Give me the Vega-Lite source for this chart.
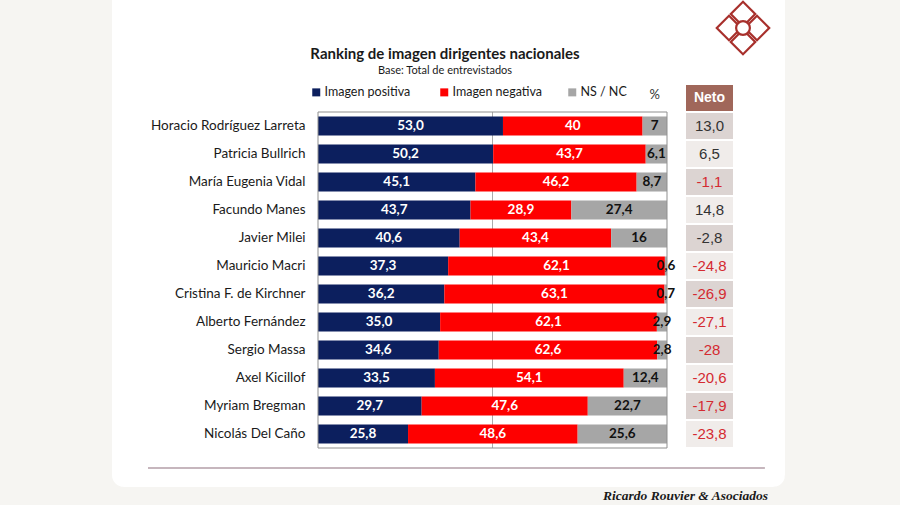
{
  "$schema": "https://vega.github.io/schema/vega-lite/v6.json",
  "width": 349,
  "height": 336,
  "autosize": {"type": "none"},
  "padding": {"left": 318, "top": 112, "right": 233, "bottom": 57},
  "background": "#f6f5f2",
  "config": {"view": {"stroke": null}, "font": "Lato"},
  "datasets": {
    "bars": [
      {"name": "Horacio Rodríguez Larreta", "cat": "Imagen positiva", "value": 53.0, "label": "53,0"},
      {"name": "Horacio Rodríguez Larreta", "cat": "Imagen negativa", "value": 40, "label": "40"},
      {"name": "Horacio Rodríguez Larreta", "cat": "NS / NC", "value": 7, "label": "7"},
      {"name": "Patricia Bullrich", "cat": "Imagen positiva", "value": 50.2, "label": "50,2"},
      {"name": "Patricia Bullrich", "cat": "Imagen negativa", "value": 43.7, "label": "43,7"},
      {"name": "Patricia Bullrich", "cat": "NS / NC", "value": 6.1, "label": "6,1"},
      {"name": "María Eugenia Vidal", "cat": "Imagen positiva", "value": 45.1, "label": "45,1"},
      {"name": "María Eugenia Vidal", "cat": "Imagen negativa", "value": 46.2, "label": "46,2"},
      {"name": "María Eugenia Vidal", "cat": "NS / NC", "value": 8.7, "label": "8,7"},
      {"name": "Facundo Manes", "cat": "Imagen positiva", "value": 43.7, "label": "43,7"},
      {"name": "Facundo Manes", "cat": "Imagen negativa", "value": 28.9, "label": "28,9"},
      {"name": "Facundo Manes", "cat": "NS / NC", "value": 27.4, "label": "27,4"},
      {"name": "Javier Milei", "cat": "Imagen positiva", "value": 40.6, "label": "40,6"},
      {"name": "Javier Milei", "cat": "Imagen negativa", "value": 43.4, "label": "43,4"},
      {"name": "Javier Milei", "cat": "NS / NC", "value": 16, "label": "16"},
      {"name": "Mauricio Macri", "cat": "Imagen positiva", "value": 37.3, "label": "37,3"},
      {"name": "Mauricio Macri", "cat": "Imagen negativa", "value": 62.1, "label": "62,1"},
      {"name": "Mauricio Macri", "cat": "NS / NC", "value": 0.6, "label": "0,6"},
      {"name": "Cristina F. de Kirchner", "cat": "Imagen positiva", "value": 36.2, "label": "36,2"},
      {"name": "Cristina F. de Kirchner", "cat": "Imagen negativa", "value": 63.1, "label": "63,1"},
      {"name": "Cristina F. de Kirchner", "cat": "NS / NC", "value": 0.7, "label": "0,7"},
      {"name": "Alberto Fernández", "cat": "Imagen positiva", "value": 35.0, "label": "35,0"},
      {"name": "Alberto Fernández", "cat": "Imagen negativa", "value": 62.1, "label": "62,1"},
      {"name": "Alberto Fernández", "cat": "NS / NC", "value": 2.9, "label": "2,9"},
      {"name": "Sergio Massa", "cat": "Imagen positiva", "value": 34.6, "label": "34,6"},
      {"name": "Sergio Massa", "cat": "Imagen negativa", "value": 62.6, "label": "62,6"},
      {"name": "Sergio Massa", "cat": "NS / NC", "value": 2.8, "label": "2,8"},
      {"name": "Axel Kicillof", "cat": "Imagen positiva", "value": 33.5, "label": "33,5"},
      {"name": "Axel Kicillof", "cat": "Imagen negativa", "value": 54.1, "label": "54,1"},
      {"name": "Axel Kicillof", "cat": "NS / NC", "value": 12.4, "label": "12,4"},
      {"name": "Myriam Bregman", "cat": "Imagen positiva", "value": 29.7, "label": "29,7"},
      {"name": "Myriam Bregman", "cat": "Imagen negativa", "value": 47.6, "label": "47,6"},
      {"name": "Myriam Bregman", "cat": "NS / NC", "value": 22.7, "label": "22,7"},
      {"name": "Nicolás Del Caño", "cat": "Imagen positiva", "value": 25.8, "label": "25,8"},
      {"name": "Nicolás Del Caño", "cat": "Imagen negativa", "value": 48.6, "label": "48,6"},
      {"name": "Nicolás Del Caño", "cat": "NS / NC", "value": 25.6, "label": "25,6"}
    ],
    "neto": [
      {"name": "Horacio Rodríguez Larreta", "neto": 13.0, "label": "13,0"},
      {"name": "Patricia Bullrich", "neto": 6.5, "label": "6,5"},
      {"name": "María Eugenia Vidal", "neto": -1.1, "label": "-1,1"},
      {"name": "Facundo Manes", "neto": 14.8, "label": "14,8"},
      {"name": "Javier Milei", "neto": -2.8, "label": "-2,8"},
      {"name": "Mauricio Macri", "neto": -24.8, "label": "-24,8"},
      {"name": "Cristina F. de Kirchner", "neto": -26.9, "label": "-26,9"},
      {"name": "Alberto Fernández", "neto": -27.1, "label": "-27,1"},
      {"name": "Sergio Massa", "neto": -28, "label": "-28"},
      {"name": "Axel Kicillof", "neto": -20.6, "label": "-20,6"},
      {"name": "Myriam Bregman", "neto": -17.9, "label": "-17,9"},
      {"name": "Nicolás Del Caño", "neto": -23.8, "label": "-23,8"}
    ],
    "logo": [
      {"lx": 0, "ly": 1, "part": "cell"},
      {"lx": -1, "ly": 0, "part": "cell"},
      {"lx": 1, "ly": 0, "part": "cell"},
      {"lx": 0, "ly": -1, "part": "cell"},
      {"lx": 0, "ly": 0, "part": "core"}
    ]
  },
  "resolve": {"scale": {"x": "independent", "y": "independent"}},
  "layer": [
    {
      "data": {"values": [{"k": 1}]},
      "layer": [
        {
          "mark": {"type": "rect", "fill": "#cfcac4", "cornerRadius": 14, "xOffset": 1, "yOffset": 4, "opacity": 0.8},
          "encoding": {
            "x": {"datum": 0, "type": "quantitative", "scale": {"domain": [0, 1], "range": [-206, 467]}, "axis": null},
            "x2": {"datum": 1},
            "y": {"datum": 0, "type": "quantitative", "scale": {"domain": [0, 1], "range": [-130, 375]}, "axis": null},
            "y2": {"datum": 1}
          }
        },
        {
          "mark": {"type": "rect", "fill": "#ffffff", "cornerRadius": 12},
          "encoding": {
            "x": {"datum": 0, "type": "quantitative"},
            "x2": {"datum": 1},
            "y": {"datum": 0, "type": "quantitative"},
            "y2": {"datum": 1}
          }
        }
      ]
    },
    {
      "data": {"name": "bars"},
      "layer": [
        {
          "data": {"values": [{"k": 1}]},
          "mark": {"type": "rule", "color": "#ababab", "strokeWidth": 1},
          "encoding": {"x": {"datum": 50, "type": "quantitative"}}
        },
        {
          "transform": [
            {"calculate": "indexof(['Imagen positiva','Imagen negativa','NS / NC'], datum.cat)", "as": "ci"},
            {"stack": "value", "groupby": ["name"], "sort": [{"field": "ci"}], "as": ["x0", "x1"]}
          ],
          "mark": {"type": "bar"},
          "encoding": {
            "x": {
              "field": "x0", "type": "quantitative",
              "scale": {"domain": [0, 100], "nice": false},
              "axis": {"orient": "top", "labels": false, "ticks": false, "domain": false, "grid": false, "title": "%", "titleFontSize": 13, "titleFontWeight": "normal", "titleColor": "#333333", "titleAnchor": "start", "titleAlign": "left", "titleBaseline": "alphabetic", "titleX": 331, "titleY": -14, "zindex": 1}
            },
            "x2": {"field": "x1"},
            "y": {
              "field": "name", "type": "nominal",
              "scale": {"domain": ["Horacio Rodríguez Larreta", "Patricia Bullrich", "María Eugenia Vidal", "Facundo Manes", "Javier Milei", "Mauricio Macri", "Cristina F. de Kirchner", "Alberto Fernández", "Sergio Massa", "Axel Kicillof", "Myriam Bregman", "Nicolás Del Caño"], "paddingInner": 0.32, "paddingOuter": 0.16},
              "axis": {"orient": "left", "title": null, "domain": false, "ticks": false, "labelFontSize": 13.5, "labelColor": "#1a1a1a", "labelPadding": 13, "zindex": 1}
            },
            "color": {
              "field": "cat", "type": "nominal",
              "scale": {"domain": ["Imagen positiva", "Imagen negativa", "NS / NC"], "range": ["#0c1f5e", "#fe0000", "#a6a6a6"]},
              "legend": {"orient": "none", "legendX": -8, "legendY": -26, "direction": "horizontal", "columns": 3, "title": null, "symbolType": "square", "symbolSize": 64, "symbolStrokeWidth": 0, "labelFontSize": 12.5, "labelColor": "#1a1a1a", "labelOffset": 2, "columnPadding": 23, "gridAlign": "all", "zindex": 1}
            }
          }
        },
        {
          "data": {"values": [{"k": 1}]},
          "mark": {"type": "rect", "fill": "transparent", "stroke": "#8f8f8f", "strokeWidth": 1},
          "encoding": {"x": {"datum": 0, "type": "quantitative"}, "x2": {"datum": 100}}
        },
        {
          "transform": [
            {"calculate": "indexof(['Imagen positiva','Imagen negativa','NS / NC'], datum.cat)", "as": "ci"},
            {"stack": "value", "groupby": ["name"], "sort": [{"field": "ci"}], "as": ["x0", "x1"]},
            {"calculate": "(datum.x0 + datum.x1) / 2", "as": "xm"}
          ],
          "mark": {"type": "text", "fontWeight": "bold", "fontSize": 13.5},
          "encoding": {
            "x": {"field": "xm", "type": "quantitative"},
            "y": {"field": "name", "type": "nominal"},
            "text": {"field": "label"},
            "color": {"condition": {"test": "datum.cat == 'NS / NC'", "value": "#111111"}, "value": "#ffffff"}
          }
        }
      ]
    },
    {
      "data": {"name": "neto"},
      "layer": [
        {
          "transform": [{"window": [{"op": "row_number", "as": "rn"}]}],
          "mark": {"type": "rect"},
          "encoding": {
            "x": {"datum": 0, "type": "quantitative", "scale": {"domain": [0, 1], "range": [368, 415]}, "axis": null},
            "x2": {"datum": 1},
            "y": {
              "field": "name", "type": "nominal",
              "scale": {"domain": ["Neto", "Horacio Rodríguez Larreta", "Patricia Bullrich", "María Eugenia Vidal", "Facundo Manes", "Javier Milei", "Mauricio Macri", "Cristina F. de Kirchner", "Alberto Fernández", "Sergio Massa", "Axel Kicillof", "Myriam Bregman", "Nicolás Del Caño"], "range": [-28, 336], "paddingInner": 0.07, "paddingOuter": 0.035},
              "axis": null
            },
            "fill": {"condition": {"test": "datum.rn % 2 == 1", "value": "#dcd4d2"}, "value": "#f0ecea"}
          }
        },
        {
          "mark": {"type": "text", "font": "Liberation Sans", "fontSize": 15},
          "encoding": {
            "x": {"datum": 0.5, "type": "quantitative"},
            "y": {"field": "name", "type": "nominal"},
            "text": {"field": "label"},
            "color": {"condition": {"test": "datum.neto < -3 || datum.neto == -1.1", "value": "#d42a31"}, "value": "#333333"}
          }
        },
        {
          "data": {"values": [{"name": "Neto"}]},
          "mark": {"type": "rect", "fill": "#a0675a"},
          "encoding": {
            "x": {"datum": 0, "type": "quantitative"},
            "x2": {"datum": 1},
            "y": {"field": "name", "type": "nominal"}
          }
        },
        {
          "data": {"values": [{"name": "Neto"}]},
          "mark": {"type": "text", "color": "#ffffff", "fontWeight": "bold", "font": "Liberation Sans", "fontSize": 14},
          "encoding": {
            "x": {"datum": 0.5, "type": "quantitative"},
            "y": {"field": "name", "type": "nominal"},
            "text": {"field": "name"}
          }
        }
      ]
    },
    {
      "data": {"values": [{"t": "Ricardo Rouvier & Asociados"}]},
      "layer": [
        {
          "mark": {"type": "rule", "color": "#8d6f7c", "strokeWidth": 1.2},
          "encoding": {
            "x": {"datum": 0, "type": "quantitative", "scale": {"domain": [0, 1], "range": [-170, 450]}, "axis": null},
            "x2": {"datum": 0.995},
            "y": {"datum": 0, "type": "quantitative", "scale": {"domain": [0, 1], "range": [356, 388]}, "axis": null}
          }
        },
        {
          "mark": {"type": "text", "align": "right", "baseline": "alphabetic", "font": "Liberation Serif", "fontStyle": "italic", "fontWeight": "bold", "fontSize": 13.5, "color": "#1a1a1a"},
          "encoding": {
            "x": {"datum": 1, "type": "quantitative"},
            "y": {"datum": 1, "type": "quantitative"},
            "text": {"field": "t"}
          }
        }
      ]
    },
    {
      "data": {"values": [{"t": "Ranking de imagen dirigentes nacionales", "s": "Base: Total de entrevistados"}]},
      "layer": [
        {
          "mark": {"type": "text", "align": "center", "baseline": "alphabetic", "fontWeight": "bold", "fontSize": 15, "color": "#1a1a1a"},
          "encoding": {
            "x": {"datum": 0, "type": "quantitative", "scale": {"domain": [0, 1], "range": [127, 128]}, "axis": null},
            "y": {"datum": 0, "type": "quantitative", "scale": {"domain": [0, 1], "range": [-53, -38]}, "axis": null},
            "text": {"field": "t"}
          }
        },
        {
          "mark": {"type": "text", "align": "center", "baseline": "alphabetic", "fontSize": 11, "color": "#1a1a1a"},
          "encoding": {
            "x": {"datum": 0, "type": "quantitative"},
            "y": {"datum": 1, "type": "quantitative"},
            "text": {"field": "s"}
          }
        }
      ]
    },
    {
      "data": {"name": "logo"},
      "mark": {"type": "point", "filled": true, "fill": "#ffffff", "stroke": "#a8302c", "strokeWidth": 2.2, "angle": 45, "opacity": 1},
      "encoding": {
        "x": {"field": "lx", "type": "quantitative", "scale": {"domain": [-1, 1], "range": [411, 439]}, "axis": null},
        "y": {"field": "ly", "type": "quantitative", "scale": {"domain": [-1, 1], "range": [-70, -98]}, "axis": null},
        "shape": {"field": "part", "type": "nominal", "scale": {"domain": ["cell", "core"], "range": ["square", "circle"]}, "legend": null},
        "size": {"field": "part", "type": "nominal", "scale": {"domain": ["cell", "core"], "range": [300, 190]}, "legend": null}
      }
    }
  ]
}
